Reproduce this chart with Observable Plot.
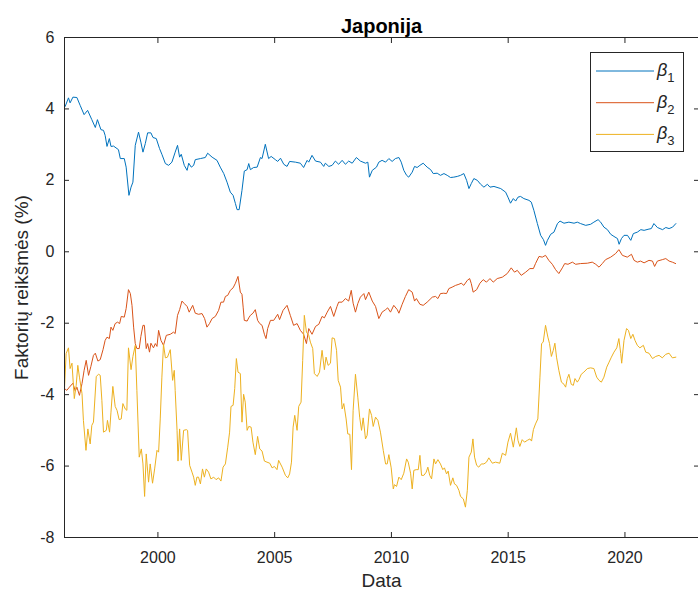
<!DOCTYPE html>
<html><head><meta charset="utf-8">
<script src="https://cdn.jsdelivr.net/npm/d3@7"></script>
<script src="https://cdn.jsdelivr.net/npm/@observablehq/plot@0.6"></script>
<style>
body{margin:0;background:#fff;}
#wrap{position:relative;width:698px;height:601px;font-family:"Liberation Sans",Arial,Helvetica,sans-serif;}
#legend{position:absolute;left:590px;top:52px;}
</style>
</head><body><div id="wrap"></div>
<script>
const title = "Japonija";
const xLabel = "Data";
const yLabel = "Faktorių reikšmės (%)";
const xTicks = [2000, 2005, 2010, 2015, 2020];
const yTicks = [-8, -6, -4, -2, 0, 2, 4, 6];
const seriesSymbol = "β";
const seriesSubscripts = ["1", "2", "3"];
const seriesColors = ["#0072BD", "#D95319", "#EDB120"];

const beta1 = [[1996.03,4.07],[1996.17,4.31],[1996.24,4.17],[1996.36,4.33],[1996.53,4.32],[1996.67,4.10],[1996.84,3.84],[1996.99,3.96],[1997.17,3.70],[1997.32,3.48],[1997.41,3.70],[1997.56,3.42],[1997.67,3.40],[1997.74,3.26],[1997.82,2.95],[1997.92,3.17],[1997.99,2.95],[1998.10,2.96],[1998.31,2.86],[1998.39,2.61],[1998.56,2.61],[1998.64,2.37],[1998.76,1.58],[1998.85,1.81],[1998.93,1.95],[1999.03,2.98],[1999.17,3.35],[1999.27,3.07],[1999.36,2.79],[1999.46,3.03],[1999.56,3.33],[1999.70,3.33],[1999.79,3.20],[1999.93,3.17],[2000.07,2.89],[2000.17,2.73],[2000.32,2.47],[2000.46,2.42],[2000.60,2.51],[2000.74,2.79],[2000.84,2.98],[2000.93,2.65],[2001.00,2.73],[2001.13,2.42],[2001.25,2.28],[2001.32,2.48],[2001.43,2.37],[2001.53,2.42],[2001.60,2.58],[2001.82,2.61],[2002.03,2.64],[2002.13,2.76],[2002.32,2.65],[2002.53,2.56],[2002.67,2.37],[2002.82,2.19],[2002.96,1.95],[2003.10,1.67],[2003.22,1.58],[2003.32,1.35],[2003.39,1.18],[2003.48,1.18],[2003.60,1.72],[2003.70,2.26],[2003.82,2.30],[2003.89,2.47],[2003.96,2.30],[2004.10,2.36],[2004.25,2.37],[2004.39,2.64],[2004.46,2.61],[2004.60,3.01],[2004.74,2.61],[2004.85,2.67],[2005.03,2.58],[2005.13,2.53],[2005.25,2.62],[2005.39,2.45],[2005.53,2.39],[2005.64,2.53],[2005.89,2.51],[2006.10,2.48],[2006.24,2.36],[2006.39,2.56],[2006.46,2.51],[2006.60,2.70],[2006.75,2.54],[2006.96,2.51],[2007.10,2.39],[2007.17,2.48],[2007.32,2.39],[2007.46,2.42],[2007.60,2.54],[2007.74,2.45],[2007.89,2.56],[2008.03,2.45],[2008.17,2.54],[2008.32,2.48],[2008.50,2.64],[2008.67,2.54],[2008.89,2.48],[2008.99,2.51],[2009.06,2.09],[2009.18,2.28],[2009.36,2.37],[2009.46,2.51],[2009.60,2.56],[2009.75,2.51],[2009.89,2.61],[2010.03,2.53],[2010.17,2.61],[2010.32,2.64],[2010.42,2.51],[2010.53,2.28],[2010.65,2.14],[2010.74,2.09],[2010.89,2.23],[2010.99,2.39],[2011.10,2.36],[2011.22,2.42],[2011.36,2.48],[2011.53,2.37],[2011.68,2.30],[2011.79,2.19],[2011.96,2.20],[2012.10,2.14],[2012.25,2.19],[2012.39,2.14],[2012.53,2.08],[2012.67,2.09],[2012.82,2.11],[2012.96,2.14],[2013.10,2.19],[2013.22,2.00],[2013.32,1.77],[2013.42,1.91],[2013.53,2.05],[2013.68,2.00],[2013.82,1.89],[2013.96,1.81],[2014.11,1.89],[2014.22,1.81],[2014.39,1.83],[2014.68,1.77],[2014.89,1.67],[2014.99,1.53],[2015.10,1.36],[2015.22,1.49],[2015.32,1.42],[2015.42,1.53],[2015.53,1.55],[2015.67,1.49],[2015.89,1.44],[2015.99,1.39],[2016.10,1.16],[2016.25,0.79],[2016.39,0.46],[2016.51,0.34],[2016.60,0.18],[2016.68,0.32],[2016.82,0.49],[2016.96,0.55],[2017.11,0.79],[2017.22,0.86],[2017.39,0.80],[2017.60,0.83],[2017.82,0.80],[2017.96,0.83],[2018.10,0.79],[2018.32,0.74],[2018.53,0.77],[2018.67,0.83],[2018.85,0.90],[2018.96,0.83],[2019.10,0.69],[2019.25,0.62],[2019.39,0.49],[2019.53,0.43],[2019.68,0.37],[2019.75,0.21],[2019.85,0.37],[2019.96,0.46],[2020.11,0.46],[2020.25,0.32],[2020.36,0.51],[2020.53,0.55],[2020.68,0.62],[2020.82,0.60],[2020.99,0.63],[2021.13,0.65],[2021.24,0.79],[2021.39,0.68],[2021.61,0.62],[2021.75,0.68],[2021.89,0.65],[2022.04,0.69],[2022.18,0.79]];

const beta2 = [[1996.00,-3.83],[1996.10,-3.88],[1996.21,-3.79],[1996.36,-3.68],[1996.46,-3.90],[1996.53,-3.79],[1996.64,-4.02],[1996.75,-3.69],[1996.84,-3.32],[1996.93,-3.04],[1997.03,-3.46],[1997.13,-3.21],[1997.24,-2.90],[1997.32,-2.84],[1997.43,-3.06],[1997.53,-3.02],[1997.65,-2.74],[1997.74,-2.48],[1997.82,-2.39],[1997.92,-2.43],[1997.99,-2.11],[1998.07,-2.20],[1998.17,-2.01],[1998.27,-1.97],[1998.36,-2.01],[1998.43,-1.81],[1998.56,-1.83],[1998.64,-1.59],[1998.74,-1.06],[1998.82,-1.17],[1998.89,-1.50],[1998.96,-2.11],[1999.03,-2.57],[1999.10,-2.71],[1999.20,-2.71],[1999.27,-2.37],[1999.36,-2.06],[1999.42,-2.06],[1999.50,-2.71],[1999.56,-2.57],[1999.64,-2.81],[1999.70,-2.56],[1999.81,-2.69],[1999.89,-2.57],[1999.96,-2.65],[2000.03,-2.20],[2000.13,-2.48],[2000.24,-2.62],[2000.36,-2.34],[2000.53,-2.31],[2000.67,-2.25],[2000.74,-2.29],[2000.84,-1.78],[2000.93,-1.62],[2001.03,-1.38],[2001.13,-1.45],[2001.25,-1.53],[2001.34,-1.69],[2001.49,-1.50],[2001.60,-1.72],[2001.74,-1.75],[2001.89,-1.73],[2002.00,-1.87],[2002.10,-2.11],[2002.21,-2.01],[2002.32,-1.87],[2002.46,-1.81],[2002.60,-1.64],[2002.70,-1.41],[2002.81,-1.41],[2002.89,-1.25],[2002.99,-1.22],[2003.10,-1.08],[2003.22,-1.01],[2003.32,-0.88],[2003.43,-0.69],[2003.53,-1.13],[2003.60,-1.19],[2003.65,-1.55],[2003.70,-1.92],[2003.82,-1.94],[2003.89,-1.85],[2003.96,-1.78],[2004.07,-1.72],[2004.17,-1.62],[2004.27,-1.92],[2004.36,-2.01],[2004.46,-2.06],[2004.56,-2.31],[2004.63,-2.43],[2004.70,-2.15],[2004.82,-1.92],[2004.96,-1.92],[2005.13,-1.75],[2005.21,-1.90],[2005.36,-1.64],[2005.53,-1.50],[2005.67,-1.78],[2005.81,-2.06],[2005.96,-2.01],[2006.10,-2.20],[2006.24,-2.31],[2006.36,-2.57],[2006.46,-2.15],[2006.60,-2.31],[2006.75,-2.09],[2006.89,-2.03],[2007.03,-1.81],[2007.13,-1.85],[2007.25,-1.69],[2007.39,-1.53],[2007.53,-1.81],[2007.67,-1.53],[2007.74,-1.41],[2007.89,-1.41],[2008.03,-1.31],[2008.17,-1.38],[2008.28,-1.08],[2008.36,-1.44],[2008.46,-1.69],[2008.56,-1.45],[2008.67,-1.27],[2008.82,-1.17],[2008.89,-1.34],[2009.03,-1.13],[2009.18,-1.38],[2009.32,-1.53],[2009.46,-1.87],[2009.60,-1.69],[2009.75,-1.62],[2009.84,-1.57],[2009.96,-1.69],[2010.10,-1.50],[2010.25,-1.62],[2010.32,-1.72],[2010.46,-1.47],[2010.60,-1.25],[2010.74,-1.06],[2010.89,-1.13],[2010.99,-1.38],[2011.07,-1.31],[2011.22,-1.47],[2011.36,-1.50],[2011.53,-1.41],[2011.75,-1.27],[2011.89,-1.25],[2011.99,-1.31],[2012.10,-1.17],[2012.24,-1.16],[2012.36,-1.17],[2012.46,-1.03],[2012.60,-0.99],[2012.75,-0.94],[2012.89,-0.91],[2012.99,-0.88],[2013.10,-0.94],[2013.25,-0.80],[2013.35,-0.75],[2013.42,-0.89],[2013.50,-1.13],[2013.65,-1.06],[2013.79,-0.88],[2013.93,-0.78],[2014.07,-0.85],[2014.22,-0.75],[2014.36,-0.85],[2014.53,-0.75],[2014.75,-0.71],[2014.96,-0.61],[2015.13,-0.45],[2015.27,-0.57],[2015.39,-0.52],[2015.56,-0.66],[2015.75,-0.57],[2015.93,-0.47],[2016.08,-0.47],[2016.17,-0.33],[2016.32,-0.13],[2016.46,-0.15],[2016.60,-0.10],[2016.74,-0.24],[2016.89,-0.35],[2017.03,-0.50],[2017.17,-0.61],[2017.32,-0.45],[2017.42,-0.33],[2017.56,-0.35],[2017.75,-0.29],[2017.89,-0.35],[2018.10,-0.33],[2018.39,-0.32],[2018.60,-0.29],[2018.75,-0.35],[2018.89,-0.43],[2019.03,-0.33],[2019.17,-0.22],[2019.39,-0.15],[2019.60,-0.05],[2019.74,0.06],[2019.89,-0.10],[2020.10,-0.15],[2020.28,-0.07],[2020.39,-0.24],[2020.53,-0.29],[2020.67,-0.26],[2020.82,-0.31],[2021.03,-0.24],[2021.18,-0.26],[2021.27,-0.41],[2021.39,-0.26],[2021.60,-0.22],[2021.75,-0.19],[2021.89,-0.26],[2022.03,-0.29],[2022.17,-0.33]];

const beta3 = [[1996.00,-3.83],[1996.07,-2.85],[1996.17,-2.69],[1996.24,-3.27],[1996.32,-3.12],[1996.42,-4.11],[1996.50,-3.74],[1996.57,-3.18],[1996.64,-3.51],[1996.75,-3.97],[1996.81,-4.72],[1996.92,-5.56],[1997.00,-4.96],[1997.10,-5.38],[1997.17,-4.86],[1997.24,-4.77],[1997.36,-3.49],[1997.46,-3.43],[1997.53,-3.46],[1997.60,-4.16],[1997.67,-5.05],[1997.79,-5.00],[1997.84,-4.72],[1997.93,-5.05],[1997.99,-4.49],[1998.07,-3.77],[1998.17,-4.33],[1998.25,-4.44],[1998.34,-4.70],[1998.43,-4.68],[1998.50,-4.25],[1998.60,-4.40],[1998.67,-4.44],[1998.74,-2.69],[1998.85,-3.30],[1998.93,-2.93],[1999.03,-2.62],[1999.10,-3.88],[1999.20,-5.75],[1999.29,-5.52],[1999.36,-5.94],[1999.43,-6.85],[1999.50,-5.66],[1999.60,-6.45],[1999.67,-5.94],[1999.77,-6.48],[1999.86,-6.08],[1999.96,-5.56],[2000.03,-5.61],[2000.10,-4.68],[2000.17,-3.51],[2000.24,-2.59],[2000.32,-2.97],[2000.41,-2.95],[2000.53,-2.74],[2000.63,-3.60],[2000.70,-3.32],[2000.74,-3.88],[2000.82,-5.00],[2000.86,-5.86],[2000.93,-4.96],[2001.00,-5.84],[2001.10,-5.00],[2001.22,-4.98],[2001.27,-5.00],[2001.36,-5.98],[2001.46,-6.17],[2001.53,-6.31],[2001.60,-6.54],[2001.67,-6.31],[2001.74,-6.31],[2001.82,-6.50],[2001.91,-6.08],[2001.99,-6.31],[2002.07,-6.08],[2002.17,-6.17],[2002.27,-6.36],[2002.39,-6.31],[2002.49,-6.38],[2002.60,-6.33],[2002.70,-6.42],[2002.79,-6.03],[2002.89,-5.94],[2002.99,-5.47],[2003.07,-5.05],[2003.13,-4.33],[2003.22,-4.30],[2003.29,-3.83],[2003.36,-2.99],[2003.43,-3.37],[2003.53,-3.41],[2003.60,-4.77],[2003.67,-3.99],[2003.74,-4.21],[2003.82,-5.00],[2003.89,-4.89],[2003.99,-4.91],[2004.07,-5.33],[2004.17,-5.68],[2004.27,-5.17],[2004.36,-5.52],[2004.46,-5.58],[2004.56,-5.86],[2004.67,-5.89],[2004.79,-5.92],[2004.89,-6.05],[2004.99,-6.01],[2005.10,-6.10],[2005.17,-5.84],[2005.32,-6.03],[2005.46,-6.26],[2005.56,-6.33],[2005.64,-6.22],[2005.72,-5.89],[2005.79,-4.91],[2005.86,-4.58],[2005.96,-5.00],[2006.03,-4.33],[2006.13,-4.21],[2006.20,-3.04],[2006.27,-1.78],[2006.36,-2.25],[2006.46,-2.34],[2006.53,-2.53],[2006.63,-2.71],[2006.70,-3.41],[2006.82,-3.49],[2006.92,-3.37],[2007.03,-2.76],[2007.13,-3.30],[2007.20,-2.95],[2007.29,-3.18],[2007.39,-3.12],[2007.46,-2.41],[2007.56,-2.43],[2007.65,-2.76],[2007.72,-3.60],[2007.82,-3.79],[2007.89,-4.40],[2007.96,-4.25],[2008.06,-4.68],[2008.13,-5.10],[2008.22,-5.11],[2008.29,-6.10],[2008.36,-4.44],[2008.46,-3.43],[2008.56,-4.07],[2008.64,-4.63],[2008.72,-5.00],[2008.79,-4.65],[2008.89,-5.24],[2008.96,-5.14],[2009.06,-4.40],[2009.15,-4.58],[2009.22,-4.89],[2009.32,-4.63],[2009.42,-4.72],[2009.53,-5.05],[2009.65,-5.56],[2009.75,-5.94],[2009.82,-5.94],[2009.89,-5.68],[2009.99,-6.05],[2010.08,-6.64],[2010.13,-6.52],[2010.22,-6.57],[2010.32,-6.31],[2010.42,-6.38],[2010.53,-6.20],[2010.65,-5.80],[2010.72,-5.89],[2010.82,-6.20],[2010.89,-6.64],[2010.96,-6.12],[2011.06,-6.10],[2011.15,-6.10],[2011.22,-5.70],[2011.29,-6.26],[2011.39,-6.26],[2011.49,-6.17],[2011.56,-6.03],[2011.64,-6.26],[2011.72,-6.36],[2011.82,-5.80],[2011.89,-5.94],[2011.99,-5.82],[2012.10,-5.94],[2012.20,-6.10],[2012.27,-6.05],[2012.36,-6.22],[2012.43,-6.14],[2012.53,-6.54],[2012.63,-6.33],[2012.70,-6.50],[2012.79,-6.54],[2012.89,-6.68],[2012.96,-6.85],[2013.08,-6.92],[2013.17,-7.15],[2013.25,-6.68],[2013.32,-5.75],[2013.42,-5.61],[2013.49,-5.24],[2013.56,-5.75],[2013.65,-5.98],[2013.74,-6.03],[2013.85,-5.94],[2013.96,-5.94],[2014.07,-5.89],[2014.17,-5.77],[2014.32,-5.92],[2014.46,-5.89],[2014.64,-5.92],[2014.75,-5.64],[2014.89,-5.70],[2014.99,-5.33],[2015.10,-5.08],[2015.22,-5.47],[2015.35,-4.93],[2015.42,-5.28],[2015.50,-5.45],[2015.60,-5.26],[2015.70,-5.33],[2015.82,-5.28],[2015.93,-5.24],[2016.00,-5.30],[2016.08,-4.98],[2016.17,-4.82],[2016.27,-4.68],[2016.36,-3.51],[2016.43,-2.57],[2016.50,-2.53],[2016.60,-2.06],[2016.70,-2.39],[2016.77,-2.57],[2016.85,-2.93],[2016.93,-2.76],[2017.00,-2.56],[2017.07,-2.95],[2017.17,-3.32],[2017.28,-3.65],[2017.39,-3.71],[2017.46,-3.79],[2017.53,-3.55],[2017.60,-3.43],[2017.70,-3.71],[2017.79,-3.74],[2017.86,-3.55],[2017.96,-3.65],[2018.03,-3.58],[2018.13,-3.43],[2018.24,-3.37],[2018.39,-3.27],[2018.53,-3.25],[2018.67,-3.27],[2018.79,-3.51],[2018.89,-3.60],[2018.99,-3.65],[2019.10,-3.51],[2019.22,-3.23],[2019.32,-3.09],[2019.42,-2.95],[2019.53,-2.81],[2019.65,-2.69],[2019.74,-2.43],[2019.82,-2.85],[2019.86,-3.12],[2019.96,-2.48],[2020.07,-2.15],[2020.15,-2.20],[2020.25,-2.43],[2020.34,-2.31],[2020.43,-2.48],[2020.53,-2.62],[2020.64,-2.69],[2020.79,-2.62],[2020.89,-2.81],[2021.03,-2.84],[2021.18,-2.99],[2021.32,-2.93],[2021.46,-2.90],[2021.60,-2.97],[2021.75,-2.87],[2021.89,-2.84],[2022.03,-2.97],[2022.18,-2.95]];

const seriesData = [beta1, beta2, beta3];
const ink = "#262626";
const font = '"Liberation Sans", Arial, Helvetica, sans-serif';

const chart = Plot.plot({
  width: 698, height: 601,
  marginLeft: 64, marginRight: 0, marginTop: 37, marginBottom: 64,
  style: {fontFamily: font, background: "#fff", color: ink},
  x: {domain: [1996, 2023.15]},
  y: {domain: [-8, 6]},
  marks: [
    ...seriesData.map((s, i) => Plot.line(s, {x: d => d[0], y: d => d[1], stroke: seriesColors[i], strokeWidth: 1})),
    Plot.frame({stroke: ink}),
    Plot.axisX({anchor: "bottom", ticks: xTicks, tickSize: -5, tickPadding: 19, tickFormat: d => String(d), fontSize: 16, label: null}),
    Plot.axisX({anchor: "top", ticks: xTicks, tickSize: -5, tickFormat: () => "", label: null}),
    Plot.axisY({anchor: "left", ticks: yTicks, tickSize: -5, tickPadding: 15, tickFormat: d => String(d), fontSize: 16, label: null}),
    Plot.axisY({anchor: "right", ticks: yTicks, tickSize: -5, tickFormat: () => "", label: null}),
    Plot.text([title], {text: d => d, frameAnchor: "top", dy: -19, fontSize: 20, fontWeight: "bold", fill: "#000"}),
    Plot.text([xLabel], {text: d => d, frameAnchor: "bottom", dy: 49, fontSize: 19, fill: ink}),
    Plot.text([yLabel], {text: d => d, frameAnchor: "left", textAnchor: "middle", dx: -43, rotate: -90, fontSize: 19, fill: ink})
  ]
});
const wrap = document.getElementById("wrap");
wrap.appendChild(chart);

// legend
const lg = d3.select(wrap).append("svg").attr("id", "legend")
  .attr("width", 95).attr("height", 101)
  .style("font-family", font);
lg.append("rect").attr("x", 0.5).attr("y", 0.5).attr("width", 93).attr("height", 99)
  .attr("fill", "#fff").attr("stroke", ink);
seriesSubscripts.forEach((sub, i) => {
  const cy = 19 + i * 31.7;
  lg.append("line").attr("x1", 6).attr("x2", 64).attr("y1", cy).attr("y2", cy)
    .attr("stroke", seriesColors[i]).attr("stroke-width", 1);
  const t = lg.append("text").attr("x", 67).attr("y", cy + 5).attr("fill", ink).attr("font-size", 18);
  t.append("tspan").attr("font-style", "italic").text(seriesSymbol);
  t.append("tspan").attr("dy", 6).attr("font-size", 13).text(sub);
});
</script>
</body></html>
